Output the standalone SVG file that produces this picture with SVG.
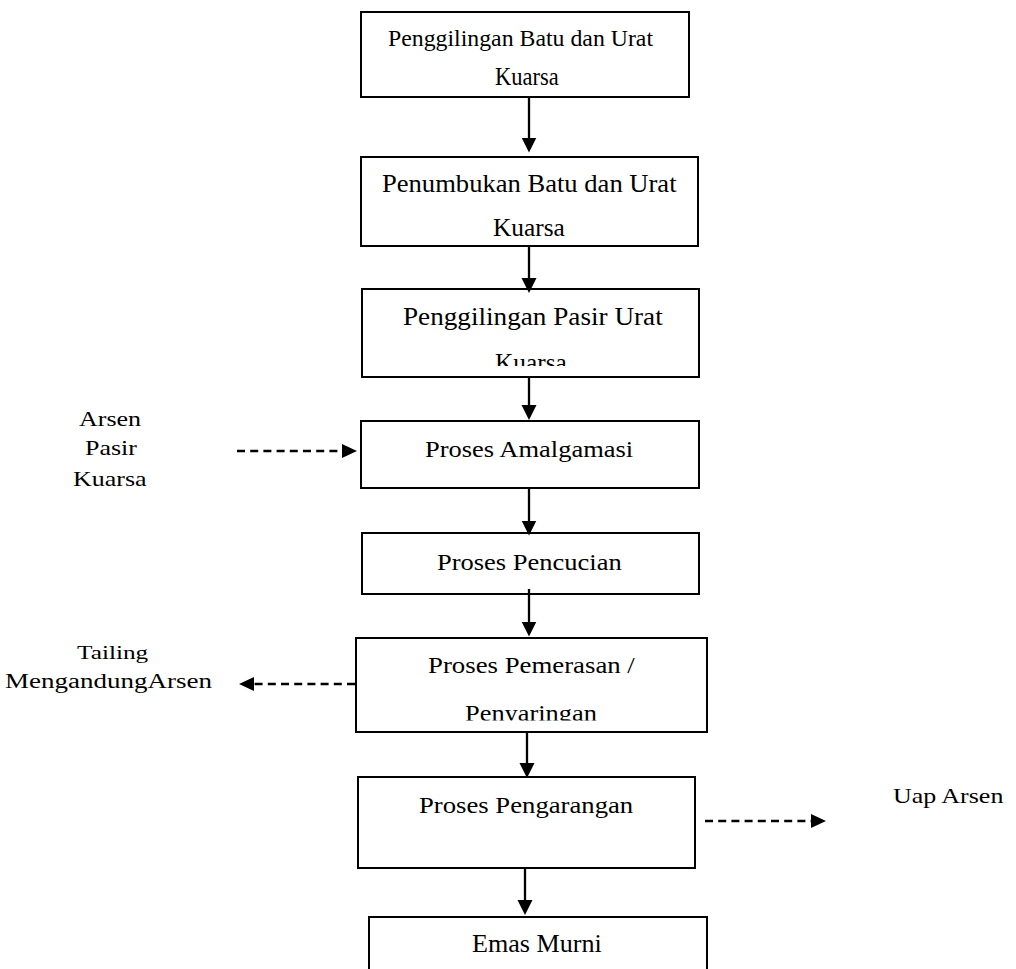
<svg xmlns="http://www.w3.org/2000/svg" width="1016" height="969" viewBox="0 0 1016 969">
  <style>
    .box { fill: #ffffff; stroke: #000000; stroke-width: 2; }
    .t { font-family: "Liberation Serif", "Times New Roman", serif; fill: #000000; }
    .flow { stroke: #000000; stroke-width: 2.3; fill: none; marker-end: url(#head); }
    .side { stroke: #000000; stroke-width: 2.5; fill: none; stroke-dasharray: 8 5.2; marker-end: url(#headSide); }
  </style>
  <defs>
    <marker id="head" markerUnits="userSpaceOnUse" markerWidth="16" markerHeight="16" viewBox="0 0 16 16" refX="8" refY="8" orient="auto">
      <path d="M0,0.5 L15,8 L0,15.5 Z" fill="#000000"/>
    </marker>
    <marker id="headSide" markerUnits="userSpaceOnUse" markerWidth="16" markerHeight="16" viewBox="0 0 16 16" refX="8" refY="8" orient="auto">
      <path d="M0,1 L15,8 L0,15 Z" fill="#000000"/>
    </marker>
    <clipPath id="clip3"><rect x="362" y="289" width="337" height="77"/></clipPath>
    <clipPath id="clip6"><rect x="356" y="638" width="351" height="82.5"/></clipPath>
  </defs>
  <rect width="1016" height="969" fill="#ffffff"/>

  <!-- process steps (type is set wide: horizontal size via font-size, height via scale) -->
  <g id="step-penggilingan-batu">
    <rect class="box" x="361" y="12" width="328" height="85"/>
    <text class="t" transform="translate(388,45.5)" font-size="23.8">Penggilingan Batu dan Urat</text>
    <text class="t" transform="translate(495,85) scale(1,1.08)" font-size="22.5">Kuarsa</text>
  </g>

  <g id="step-penumbukan">
    <rect class="box" x="361" y="157" width="337" height="89"/>
    <text class="t" transform="translate(382,192) scale(1,0.94)" font-size="26.6">Penumbukan Batu dan Urat</text>
    <text class="t" transform="translate(493,236) scale(1,0.98)" font-size="25.4">Kuarsa</text>
  </g>

  <g id="step-penggilingan-pasir">
    <rect class="box" x="362" y="289" width="337" height="88"/>
    <text class="t" transform="translate(403,325) scale(1,0.93)" font-size="27.2">Penggilingan Pasir Urat</text>
    <g clip-path="url(#clip3)">
      <text class="t" transform="translate(495,371) scale(1,0.98)" font-size="25.4">Kuarsa</text>
    </g>
  </g>

  <g id="step-amalgamasi">
    <rect class="box" x="361" y="421" width="338" height="67"/>
    <text class="t" transform="translate(425,456.7) scale(1,0.86)" font-size="26.5">Proses Amalgamasi</text>
  </g>

  <g id="step-pencucian">
    <rect class="box" x="362" y="533" width="337" height="61"/>
    <text class="t" transform="translate(437,570) scale(1,0.86)" font-size="26.5">Proses Pencucian</text>
  </g>

  <g id="step-pemerasan">
    <rect class="box" x="356" y="638" width="351" height="94"/>
    <text class="t" transform="translate(428,673) scale(1,0.85)" font-size="26.8">Proses Pemerasan /</text>
    <g clip-path="url(#clip6)">
      <text class="t" transform="translate(465,721) scale(1,0.86)" font-size="26.4">Penyaringan</text>
    </g>
  </g>

  <g id="step-pengarangan">
    <rect class="box" x="358" y="777" width="337" height="91"/>
    <text class="t" transform="translate(419,813) scale(1,0.85)" font-size="26.7">Proses Pengarangan</text>
  </g>

  <g id="step-emas-murni">
    <rect class="box" x="369" y="917" width="338" height="70"/>
    <text class="t" transform="translate(472,952) scale(1,0.96)" font-size="26.1">Emas Murni</text>
  </g>

  <!-- inputs and by-products -->
  <g id="input-arsen">
    <text class="t" transform="translate(79,426) scale(1,0.77)" font-size="26">Arsen</text>
    <text class="t" transform="translate(85,455) scale(1,0.77)" font-size="26">Pasir</text>
    <text class="t" transform="translate(73,486) scale(1,0.77)" font-size="26">Kuarsa</text>
  </g>

  <g id="output-tailing">
    <text class="t" transform="translate(77,659) scale(1,0.78)" font-size="25.3">Tailing</text>
    <text class="t" transform="translate(5,688) scale(1,0.75)" font-size="27">MengandungArsen</text>
  </g>

  <g id="output-uap-arsen">
    <text class="t" transform="translate(893,803) scale(1,0.77)" font-size="26">Uap Arsen</text>
  </g>

  <!-- connectors -->
  <g id="connectors">
    <line class="flow" x1="529" y1="97" x2="529" y2="145.5"/>
    <line class="flow" x1="529" y1="245" x2="529" y2="286"/>
    <line class="flow" x1="529" y1="376" x2="529" y2="413"/>
    <line class="flow" x1="529" y1="488" x2="529" y2="528.5"/>
    <line class="flow" x1="529" y1="589" x2="529" y2="629.5"/>
    <line class="flow" x1="527" y1="731" x2="527" y2="771"/>
    <line class="flow" x1="525" y1="868" x2="525" y2="908"/>

    <line class="side" x1="237" y1="451" x2="350" y2="451"/>
    <line class="side" x1="355" y1="684" x2="246" y2="684"/>
    <line class="side" x1="705" y1="821" x2="819" y2="821"/>
  </g>
</svg>
